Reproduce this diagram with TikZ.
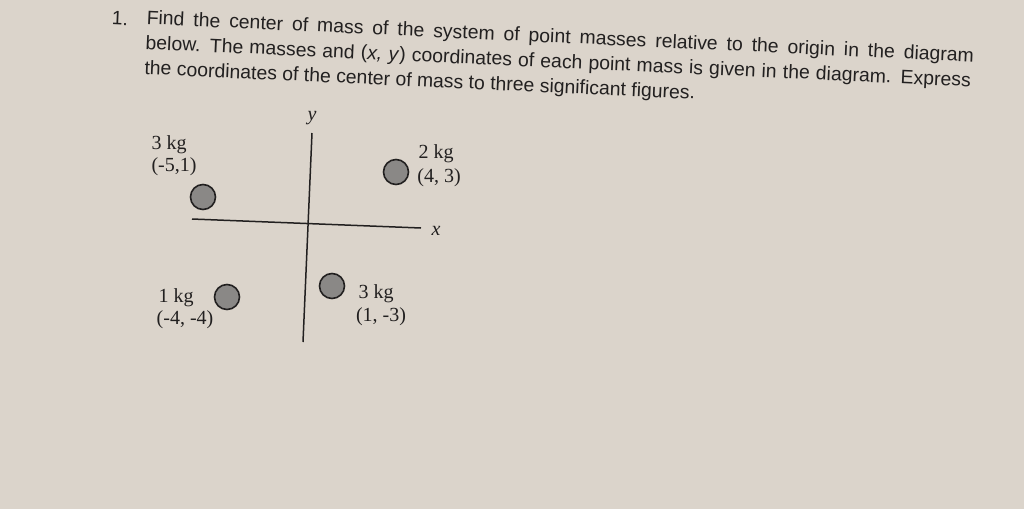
\documentclass[tikz,border=0pt]{standalone}
\usepackage{fontspec}
\setmainfont{Liberation Serif}
\setsansfont{Liberation Sans}
\usetikzlibrary{positioning}
\definecolor{paper}{RGB}{219,212,203}
\definecolor{ink}{RGB}{34,32,32}
\definecolor{dot}{RGB}{138,136,134}
\tikzset{mass/.style = {shape=circle,draw=ink,fill=dot,line width=1.6pt,minimum size=25pt,inner sep=0pt}}
\tikzset{lbl/.style = {text=ink,font=\fontsize{20}{22}\selectfont,align=center,inner sep=0pt}}
\tikzset{axis/.style = {draw=ink,line width=1.5pt}}
\tikzset{ques/.style = {text=ink,font=\sffamily\fontsize{19.4}{25}\selectfont,anchor=north west,inner sep=0pt,rotate=-2.6,align=left}}

\begin{document}
\begin{tikzpicture}[x=1pt,y=-1pt]
        \fill[paper] (0,0) rectangle (1024,509);
        \useasboundingbox (0,0) rectangle (1024,509);
        % question
        \node[ques] (n) at (112,11) {1.};
        \node[ques] (q) at (147,10)
              {\makebox[828pt][s]{Find the center of mass of the system of point masses relative to the origin in the diagram}\\
               \makebox[826pt][s]{below. The masses and (\emph{x, y}) coordinates of each point mass is given in the diagram. Express}\\
               the coordinates of the center of mass to three significant figures.};
        % axes
        \coordinate (xl) at (192,219);
        \coordinate (xr) at (421,228);
        \coordinate (yt) at (312,133);
        \coordinate (yb) at (303,342);
        \draw[axis] (xl) -- (xr);
        \draw[axis] (yt) -- (yb);
        \node[lbl] (x) at (436,231) {\itshape x};
        \node[lbl] (y) at (312,118) {\itshape y};
        % masses
        \node[mass] (a) at (203,197) {};
        \node[lbl] (a1) at (169,145) {3 kg};
        \node[lbl] (a2) at (174,167) {(-5,1)};
        \node[mass] (b) at (396,172) {};
        \node[lbl] (b1) at (436,154) {2 kg};
        \node[lbl] (b2) at (439,178) {(4, 3)};
        \node[mass] (c) at (227,297) {};
        \node[lbl] (c1) at (176,298) {1 kg};
        \node[lbl] (c2) at (185,320) {(-4, -4)};
        \node[mass] (d) at (332,286) {};
        \node[lbl] (d1) at (376,294) {3 kg};
        \node[lbl] (d2) at (381,317) {(1, -3)};
    \end{tikzpicture}
\end{document}
